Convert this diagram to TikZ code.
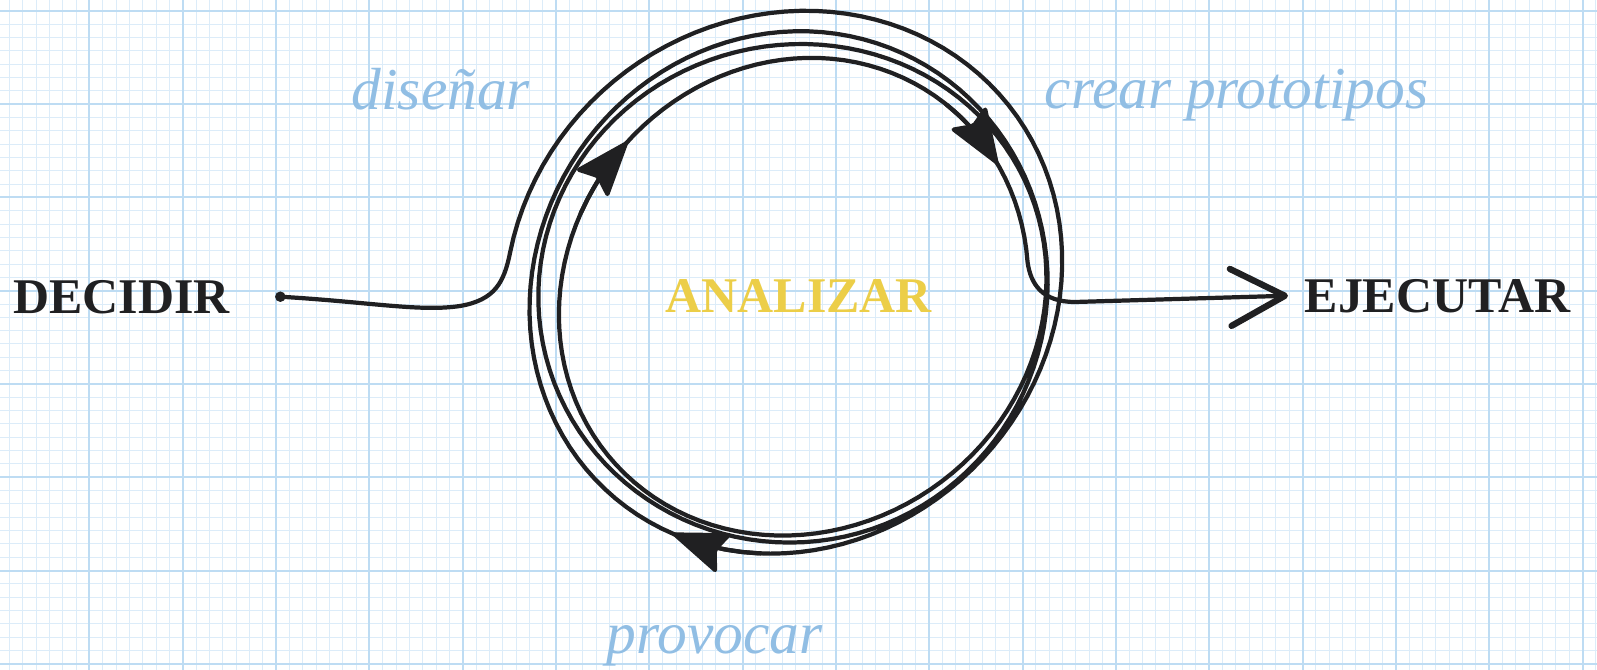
\documentclass[tikz,border=0pt]{standalone}
\usepackage{fontspec}
\setmainfont{Liberation Serif}
\usetikzlibrary{arrows.meta,calc}

\definecolor{ink}{RGB}{32,32,34}
\definecolor{gridminor}{RGB}{220,236,249}
\definecolor{gridmajor}{RGB}{190,220,243}
\definecolor{actblue}{RGB}{145,190,228}
\definecolor{analyse}{RGB}{236,206,72}

\tikzset{
  minorgrid/.style={draw=gridminor, line width=0.28pt},
  majorgrid/.style={draw=gridmajor, line width=0.6pt},
  stagelabel/.style={font=\bfseries\fontsize{14.2}{16}\selectfont, text=ink, inner sep=0pt, anchor=base west},
  actionlabel/.style={font=\itshape\fontsize{16.9}{20}\selectfont, text=actblue, inner sep=0pt, anchor=base west},
  loopline/.style={draw=ink, line width=1.2pt, line cap=round, line join=round},
}

\begin{document}
\begin{tikzpicture}[x=0.01cm, y=-0.01cm,
  declare function={
    trn(\q)=(180-\q)/360;
    sxl(\q)=510+16*trn(\q);
    sxr(\q)=1064-9*trn(\q);
    syt(\q)=2+19*trn(\q);
    syb(\q)=570-14*trn(\q);
    spx(\q)=(sxl(\q)+sxr(\q))/2+(sxr(\q)-sxl(\q))/2*cos(\q)+15*sin(\q)+5*sin(1.45*\q+20);
    spy(\q)=(syt(\q)+syb(\q))/2-(syb(\q)-syt(\q))/2*sin(\q)+6*sin(0.8*\q-30);
  }]

\useasboundingbox (0,0) rectangle (1597,670);
\clip (0,0) rectangle (1597,670);
\fill[white] (0,0) rectangle (1597,670);

% Papel cuadriculado
\foreach \i in {0,...,119} {
  \draw[minorgrid] ({9.333+13.333*\i},0) -- ++(0,670);
}
\foreach \i in {0,...,50} {
  \draw[minorgrid] (0,{-2.667+13.333*\i}) -- ++(1597,0);
}
\foreach \i in {0,...,17} {
  \draw[majorgrid] ({-4+93.333*\i},0) -- ++(0,670);
}
\foreach \i in {0,...,7} {
  \draw[majorgrid] (0,{10.667+93.333*\i}) -- ++(1597,0);
}

% Etapas
\node[stagelabel] (decidir) at (12.5,313) {DECIDIR};
\node[stagelabel] (ejecutar) at (1304,312) {EJECUTAR};
\node[stagelabel, text=analyse] (analizar) at (665,312) {ANALIZAR};

% Acciones
\node[actionlabel] (disenar) at (351,110) {diseñar};
\node[actionlabel] (crear) at (1044,109) {crear prototipos};
\node[actionlabel] (provocar) at (606,653) {provocar};

% Espiral de decidir a ejecutar
\pgfmathsetmacro{\ex}{spx(172)}
\pgfmathsetmacro{\ey}{spy(172)}
\pgfmathsetmacro{\sx}{spx(-1072)}
\pgfmathsetmacro{\sy}{spy(-1072)}
\draw[loopline, -{Straight Barb[length=15.4pt, width=16.2pt, line width=1.8pt, round]}]
  ($(decidir.east)+(50,0)$) coordinate (inicio)
  .. controls (370,302) and (420,312) .. (460,306)
  .. controls (495,300) and (\ex-6,\ey+30) .. (\ex,\ey)
  -- plot[domain=172:-1072, samples=400] ({spx(\x)},{spy(\x)})
  .. controls (\sx+3,\sy+22) and (1042,302) .. (1075,302)
  -- ($(ejecutar.west)+(-16,0)$);
\fill[ink] (inicio) circle[radius=1.5pt];

% Puntas sobre las vueltas
\foreach \a in {-939,-1046,-112} {
  \pgfmathsetmacro{\b}{\a+20}
  \draw[loopline, -{Stealth[length=17pt, width=12.5pt, inset=2.5pt, round]}]
    plot[domain=\b:\a, samples=6] ({spx(\x)},{spy(\x)});
}

\end{tikzpicture}
\end{document}
